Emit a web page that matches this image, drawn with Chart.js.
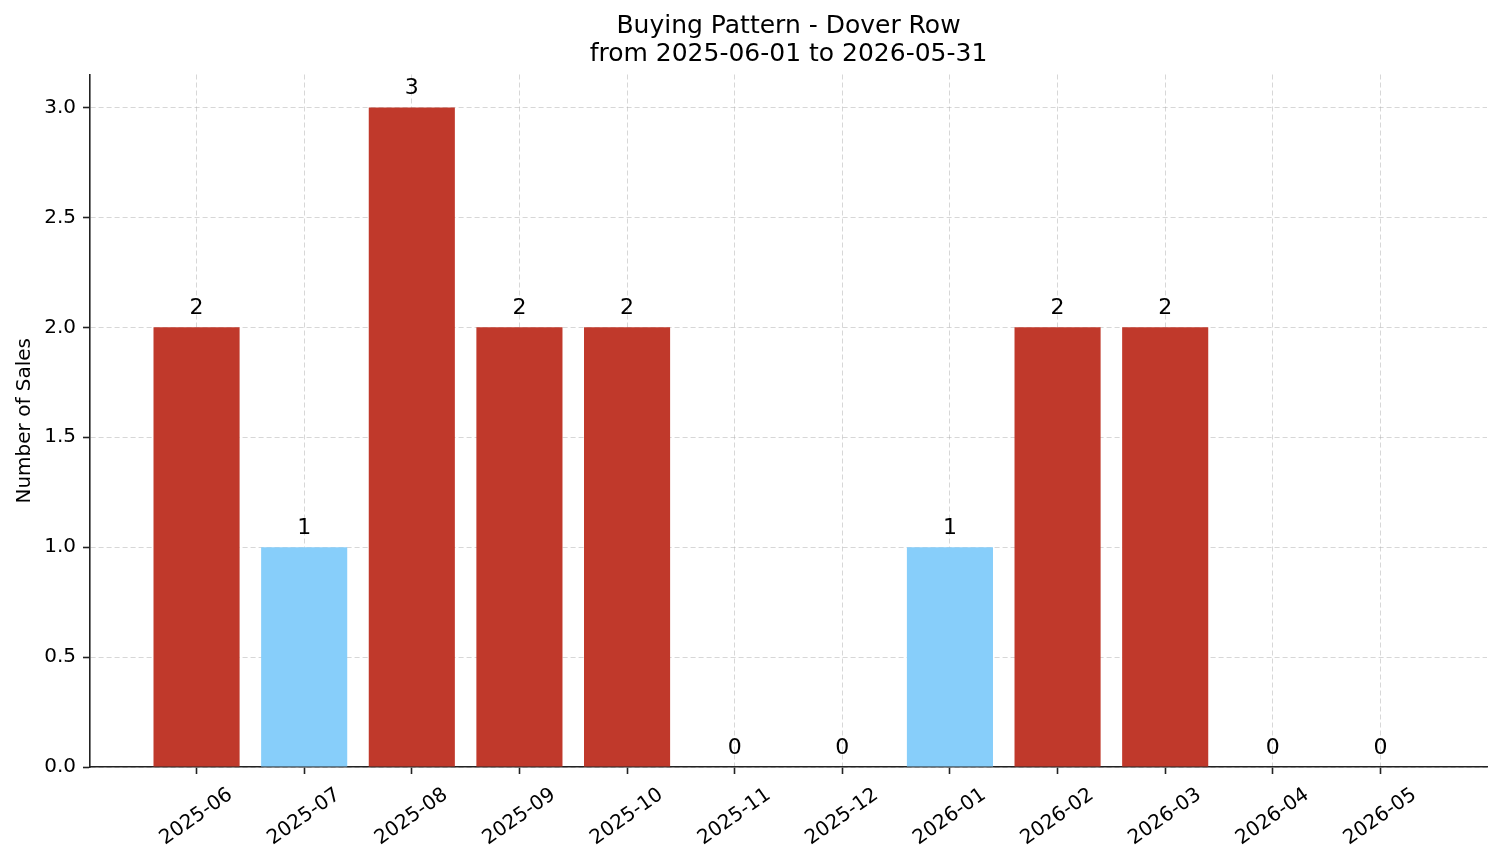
<!DOCTYPE html>
<html>
<head>
<meta charset="utf-8">
<script src="https://cdn.jsdelivr.net/npm/chart.js@4/dist/chart.umd.min.js"></script>
<style>
  html, body { margin: 0; padding: 0; background: #ffffff; }
  #wrap { width: 1501px; height: 863px; }
</style>
</head>
<body>
<div id="wrap"><canvas id="c" width="1501" height="863"></canvas></div>
<script>
const months = ["2025-06","2025-07","2025-08","2025-09","2025-10","2025-11","2025-12","2026-01","2026-02","2026-03","2026-04","2026-05"];
const sales = [2, 1, 3, 2, 2, 0, 0, 1, 2, 2, 0, 0];
const yTicks = [0, 0.5, 1.0, 1.5, 2.0, 2.5, 3.0];
const titleLines = ["Buying Pattern - Dover Row", "from 2025-06-01 to 2026-05-31"];
const yTitle = "Number of Sales";

const FONT = "'DejaVu Sans', 'Liberation Sans', sans-serif";
const RED = "#c0392b";
const BLUE = "#87cefa";
const GRID = "rgba(176,176,176,0.5)";
const AXIS = "#222222";

const points = months.map((m, i) => ({ x: i, y: sales[i] }));

const valueLabels = {
  id: "valueLabels",
  afterDraw(chart) {
    const ctx = chart.ctx;
    const meta = chart.getDatasetMeta(0);
    ctx.save();
    ctx.font = "22px " + FONT;
    ctx.fillStyle = "#000";
    ctx.textAlign = "center";
    ctx.textBaseline = "alphabetic";
    meta.data.forEach((bar, i) => {
      ctx.fillText(String(sales[i]), bar.x, bar.y - 13);
    });
    ctx.restore();
  }
};

new Chart(document.getElementById("c"), {
  type: "bar",
  data: {
    datasets: [{
      data: points,
      backgroundColor: (c) => (c.raw && c.raw.y >= 2 ? RED : BLUE),
      borderWidth: 0,
      categoryPercentage: 1.0,
      barPercentage: 0.8
    }]
  },
  options: {
    responsive: false,
    animation: false,
    devicePixelRatio: 1,
    layout: { padding: { left: 0, right: 14, top: 0, bottom: 0 } },
    plugins: {
      legend: { display: false },
      tooltip: { enabled: false },
      title: {
        display: true,
        fullSize: false,
        text: titleLines,
        color: "#000",
        font: { family: FONT, size: 25, weight: "normal", lineHeight: 1.13 },
        padding: { top: 12, bottom: 6 }
      }
    },
    scales: {
      x: {
        type: "linear",
        min: -0.99,
        max: 11.99,
        offset: false,
        z: 1,
        afterBuildTicks: (s) => { s.ticks = months.map((m, i) => ({ value: i })); },
        afterFit: (s) => { s.height = 96; },
        grid: {
          display: true,
          offset: false,
          drawOnChartArea: true,
          color: GRID,
          lineWidth: 1,
          drawTicks: true,
          tickLength: 7,
          tickColor: AXIS,
          tickWidth: 1.6,
          tickBorderDash: []
        },
        border: { display: true, color: AXIS, width: 1.6, dash: [5, 3] },
        ticks: {
          autoSkip: false,
          minRotation: 35,
          maxRotation: 35,
          labelOffset: 34,
          padding: 9,
          color: "#000",
          font: { family: FONT, size: 20 },
          callback: (v) => months[Math.round(v)] ?? ""
        }
      },
      y: {
        type: "linear",
        min: 0,
        max: 3.15,
        z: 1,
        afterBuildTicks: (s) => { s.ticks = yTicks.map(v => ({ value: v })); },
        afterFit: (s) => { s.width = 90; },
        grid: {
          display: true,
          color: GRID,
          lineWidth: 1,
          drawTicks: true,
          tickLength: 7,
          tickColor: AXIS,
          tickWidth: 1.6,
          tickBorderDash: []
        },
        border: { display: true, color: AXIS, width: 1.6, dash: [5, 3] },
        ticks: {
          padding: 7,
          color: "#000",
          font: { family: FONT, size: 20 },
          callback: (v) => Number(v).toFixed(1)
        },
        title: {
          display: true,
          text: yTitle,
          color: "#000",
          font: { family: FONT, size: 20 },
          padding: { top: 13, bottom: 0 }
        }
      }
    }
  },
  plugins: [valueLabels]
});
</script>
</body>
</html>
